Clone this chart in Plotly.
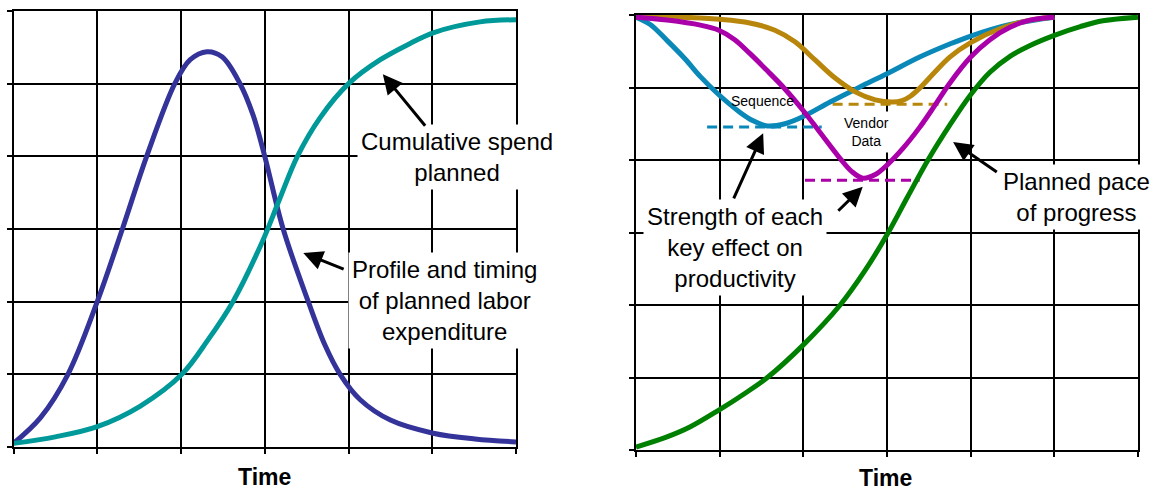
"""
plot.py — planned labor profile vs. cumulative spend, and productivity effects vs. planned progress.
"""

import plotly.graph_objects as go

W, H = 1156, 493

# Left panel: labor profile and cumulative spend (time units 0..6, value units 0..6)
labor_t = [0, 0.32, 0.65, 1.0, 1.30, 1.59, 1.93, 2.11, 2.31, 2.49, 2.70, 2.86, 3.0,
           3.22, 3.52, 3.72, 3.90, 4.14, 4.50, 5.01, 5.51, 6.0]
labor_v = [0.05, 0.40, 1.00, 2.00, 3.00, 4.00, 5.01, 5.33, 5.44, 5.37, 5.01, 4.57, 4.00,
           3.00, 2.00, 1.40, 1.00, 0.65, 0.37, 0.19, 0.11, 0.07]

spend_t = [0, 0.50, 1.0, 1.51, 2.01, 2.32, 2.62, 2.98, 3.18, 3.39, 3.66, 4.01,
           4.38, 4.73, 5.01, 5.57, 6.0]
spend_v = [0.05, 0.14, 0.28, 0.56, 1.00, 1.47, 2.00, 2.85, 3.42, 4.00, 4.53, 5.01,
           5.33, 5.55, 5.70, 5.85, 5.88]

# Right panel: productivity effect curves and planned progress
seq_t = [0, 0.17, 0.37, 0.59, 0.77, 0.99, 1.24, 1.40, 1.57, 1.78, 2.0, 2.32, 2.68, 3.0,
         3.39, 3.75, 4.0, 4.47, 5.0]
seq_v = [5.97, 5.87, 5.65, 5.39, 5.15, 4.90, 4.66, 4.54, 4.47, 4.50, 4.60, 4.80, 5.01, 5.19,
         5.42, 5.60, 5.71, 5.87, 5.97]

vendor_t = [0, 0.53, 1.0, 1.36, 1.66, 1.90, 2.14, 2.38, 2.62, 2.86, 3.07, 3.18, 3.28, 3.39,
            3.57, 3.75, 4.0, 4.35, 4.71, 5.0]
vendor_v = [5.97, 5.97, 5.94, 5.89, 5.79, 5.63, 5.38, 5.13, 4.94, 4.83, 4.80, 4.82, 4.88, 4.99,
            5.21, 5.42, 5.62, 5.81, 5.93, 5.97]

key_t = [0, 0.37, 0.77, 0.99, 1.18, 1.36, 1.57, 1.78, 2.0, 2.20, 2.44, 2.58, 2.71, 2.86,
         3.0, 3.19, 3.39, 3.57, 3.75, 4.0, 4.23, 4.47, 4.71, 5.0]
key_v = [5.97, 5.93, 5.86, 5.79, 5.66, 5.47, 5.23, 4.98, 4.68, 4.38, 4.02, 3.84, 3.75, 3.80,
         3.93, 4.16, 4.45, 4.75, 5.06, 5.42, 5.66, 5.83, 5.93, 5.97]

pace_t = [0, 0.37, 0.65, 0.99, 1.30, 1.57, 2.0, 2.44, 2.74, 3.01, 3.25, 3.49, 3.75,
          4.0, 4.23, 4.47, 4.71, 5.0, 5.31, 5.58, 6.0]
pace_v = [0.04, 0.18, 0.32, 0.55, 0.78, 1.00, 1.45, 2.00, 2.48, 2.99, 3.50, 4.00, 4.48,
          4.90, 5.21, 5.43, 5.58, 5.72, 5.84, 5.92, 5.97]

# Dashed "strength" levels: x span and level
seq_level_x, seq_level = [0.85, 2.22], 4.455
vendor_level_x, vendor_level = [2.35, 3.72], 4.77
key_level_x, key_level = [2.02, 3.39], 3.72

NAVY = "#333399"
TEAL = "#009999"
BLUE = "#0A88B8"
GOLD = "#B8860B"
MAGENTA = "#AA00AA"
GREEN = "#008000"

FONT = "Liberation Sans, Arial, sans-serif"


def px_x(p):
    return p / W


def px_y(p):
    return 1 - p / H


fig = go.Figure()

line_w = 5
fig.add_trace(go.Scatter(x=labor_t, y=labor_v, mode="lines",
                         line=dict(color=NAVY, width=line_w, shape="spline", smoothing=1.0),
                         xaxis="x", yaxis="y"))
fig.add_trace(go.Scatter(x=spend_t, y=spend_v, mode="lines",
                         line=dict(color=TEAL, width=line_w, shape="spline", smoothing=1.0),
                         xaxis="x", yaxis="y"))

for xs, lvl, col in [(seq_level_x, seq_level, BLUE),
                     (vendor_level_x, vendor_level, GOLD),
                     (key_level_x, key_level, MAGENTA)]:
    fig.add_trace(go.Scatter(x=xs, y=[lvl, lvl], mode="lines",
                             line=dict(color=col, width=3, dash="10px,6px"),
                             xaxis="x2", yaxis="y2"))

for t, v, col in [(pace_t, pace_v, GREEN), (seq_t, seq_v, BLUE),
                  (vendor_t, vendor_v, GOLD), (key_t, key_v, MAGENTA)]:
    fig.add_trace(go.Scatter(x=t, y=v, mode="lines",
                             line=dict(color=col, width=line_w, shape="spline", smoothing=1.0),
                             xaxis="x2", yaxis="y2"))

axis_common = dict(
    range=[0, 6], dtick=1, tick0=0, showgrid=True, gridcolor="black", gridwidth=2,
    showline=True, linecolor="black", linewidth=2, mirror=True,
    ticks="outside", ticklen=5, tickwidth=2, tickcolor="black",
    showticklabels=False, zeroline=False, fixedrange=True,
)

fig.update_layout(
    width=W, height=H,
    margin=dict(l=0, r=0, t=0, b=0),
    paper_bgcolor="white", plot_bgcolor="white",
    showlegend=False,
    xaxis=dict(axis_common, domain=[px_x(13.5), px_x(516)]),
    yaxis=dict(axis_common, domain=[px_y(447), px_y(11)]),
    xaxis2=dict(axis_common, domain=[px_x(636), px_x(1138)], anchor="y2"),
    yaxis2=dict(axis_common, domain=[px_y(450), px_y(15)], anchor="x2"),
)

big = dict(family=FONT, size=24, color="black")
small = dict(family=FONT, size=14, color="black")

# Text labels; most sit on white boxes that hide the grid behind them
labels = [
    ("x", "y", 5.30, 3.99, "Cumulative spend<br>planned", big, "white"),
    ("x", "y", 5.15, 2.01, "Profile and timing<br>of planned labor<br>expenditure", big, "white"),
    ("x2", "y2", 1.51, 4.81, "Sequence", small, "rgba(0,0,0,0)"),
    ("x2", "y2", 2.76, 4.39, "Vendor<br>Data", small, "white"),
    ("x2", "y2", 1.18, 2.80, "Strength of each<br>key effect on<br>productivity", big, "white"),
    ("x2", "y2", 5.26, 3.49, "Planned pace<br>of progress", big, "white"),
]
for xr, yr, x, y, text, font, bg in labels:
    fig.add_annotation(x=x, y=y, xref=xr, yref=yr, text=text, showarrow=False, font=font,
                       bgcolor=bg, borderpad=3, align="center",
                       xanchor="center", yanchor="middle")

# Arrows: (axes, tail x, tail y, head x, head y)
arrows = [
    ("x", "y", 4.93, 4.40, 4.41, 5.13),
    ("x", "y", 3.96, 2.44, 3.46, 2.67),
    ("x2", "y2", 1.16, 3.45, 1.52, 4.37),
    ("x2", "y2", 2.40, 3.28, 2.71, 3.63),
    ("x2", "y2", 4.33, 3.82, 3.79, 4.25),
]
for xr, yr, tx, ty, hx, hy in arrows:
    fig.add_annotation(x=hx, y=hy, ax=tx, ay=ty, xref=xr, yref=yr, axref=xr, ayref=yr,
                       text="", showarrow=True, arrowhead=2, arrowsize=1.3, arrowwidth=3,
                       arrowcolor="black")

# Axis titles
bold = dict(family=FONT, size=23, color="black")
for cx, cy in [(264, 477), (885, 478)]:
    fig.add_annotation(x=px_x(cx), y=px_y(cy), xref="paper", yref="paper", text="<b>Time</b>",
                       showarrow=False, font=bold, xanchor="center", yanchor="middle",
                       borderpad=0)

fig.write_html("out.html", config={"displayModeBar": False},
               post_script="document.body.style.margin='0';")
